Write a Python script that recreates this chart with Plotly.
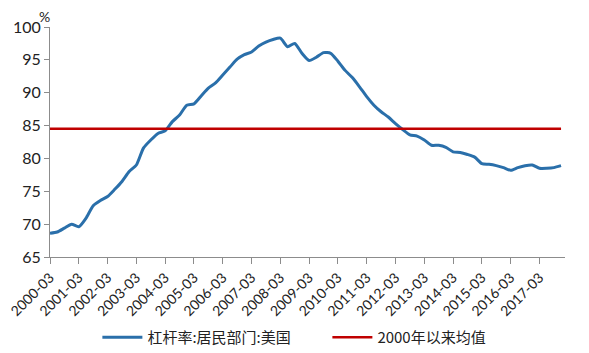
import plotly.graph_objects as go

# Quarterly data 2000-03 .. 2017-12
years = list(range(2000, 2018))
months = ["03", "06", "09", "12"]
categories = [f"{y}-{m}" for y in years for m in months]

leverage_us = [
    68.6, 68.8, 69.4, 70.0, 69.6, 70.9, 72.8, 73.6,
    74.2, 75.3, 76.5, 78.0, 79.0, 81.6, 82.8, 83.8,
    84.2, 85.6, 86.6, 88.1, 88.3, 89.5, 90.7, 91.5,
    92.7, 93.9, 95.1, 95.8, 96.2, 97.1, 97.7, 98.1,
    98.3, 97.0, 97.5, 96.0, 94.9, 95.4, 96.1, 96.0,
    94.8, 93.4, 92.3, 90.9, 89.4, 88.1, 87.1, 86.3,
    85.3, 84.4, 83.6, 83.4, 82.8, 82.0, 82.0, 81.7,
    81.0, 80.9, 80.6, 80.2, 79.2, 79.1, 78.9, 78.6,
    78.2, 78.6, 78.9, 79.0, 78.5, 78.5, 78.6, 78.9,
]
mean_since_2000 = 84.5

tick_labels = [f"{y}-03" for y in years]
y_ticks = [65, 70, 75, 80, 85, 90, 95, 100]

series_name = "杠杆率:居民部门:美国"
mean_name = "2000年以来均值"

fig = go.Figure()
fig.add_trace(go.Scatter(
    x=categories, y=leverage_us, mode="lines", name=series_name,
    line=dict(color="#2A6FAA", width=3, shape="spline", smoothing=0.6),
))
fig.add_trace(go.Scatter(
    x=categories, y=[mean_since_2000] * len(categories), mode="lines", name=mean_name,
    line=dict(color="#C00000", width=2.5),
))

font_num = "Lato, 'Noto Sans CJK SC', sans-serif"
fig.update_layout(
    width=589, height=353,
    margin=dict(l=42, r=32, t=19, b=104, autoexpand=False),
    paper_bgcolor="white", plot_bgcolor="white",
    font=dict(family=font_num, size=14, color="#222222"),
    showlegend=True,
    legend=dict(orientation="h", x=0.092, xanchor="left", y=-0.35, yanchor="middle",
                font=dict(family="'Noto Sans CJK SC', sans-serif", size=15, color="#222222"),
                entrywidth=175, entrywidthmode="pixels",
                itemwidth=40, tracegroupgap=0),
    xaxis=dict(
        type="category", range=[0, 71.55], automargin=False,
        tickmode="array", tickvals=tick_labels, ticktext=tick_labels,
        tickangle=-45, tickfont=dict(size=14, family=font_num),
        showline=True, linecolor="#8C8C8C", linewidth=1,
        ticks="outside", ticklen=6, tickcolor="#8C8C8C",
        showgrid=False, zeroline=False,
    ),
    yaxis=dict(
        range=[65, 100], tickmode="array", tickvals=y_ticks, automargin=False,
        tickfont=dict(size=16, family=font_num),
        showline=True, linecolor="#8C8C8C", linewidth=1,
        ticks="outside", ticklen=5, tickcolor="#8C8C8C",
        showgrid=False, zeroline=False,
    ),
    annotations=[dict(text="%", x=0, xref="paper", xanchor="center", xshift=-6,
                      y=1, yref="paper", yanchor="bottom", yshift=0,
                      showarrow=False, font=dict(size=14, family=font_num))],
)

fig.write_html("out.html")
